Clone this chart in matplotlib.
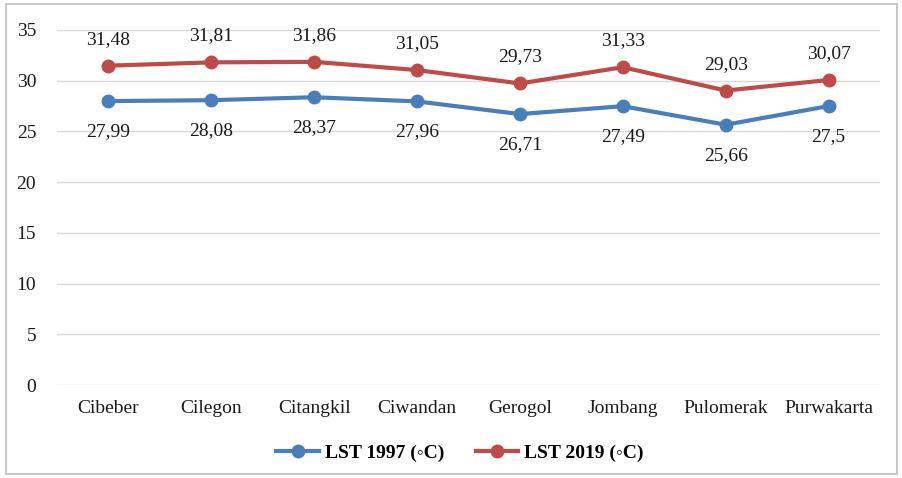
import matplotlib
matplotlib.use("Agg")
import matplotlib.pyplot as plt
from matplotlib.patches import Rectangle

plt.rcParams['font.family'] = ['Liberation Serif', 'DejaVu Serif']

districts = ['Cibeber', 'Cilegon', 'Citangkil', 'Ciwandan', 'Gerogol',
             'Jombang', 'Pulomerak', 'Purwakarta']
lst_1997 = [27.99, 28.08, 28.37, 27.96, 26.71, 27.49, 25.66, 27.5]
lst_2019 = [31.48, 31.81, 31.86, 31.05, 29.73, 31.33, 29.03, 30.07]
yticks = [0, 5, 10, 15, 20, 25, 30, 35]

blue = '#4a7ebb'
red = '#be4b48'

fig = plt.figure(figsize=(9.02, 4.78), dpi=100)
ax = fig.add_axes([57 / 902, 93 / 478, 823 / 902, 355 / 478])

# thin grey frame around the whole chart
fig.patches.append(Rectangle((6 / 902, 4 / 478), 891 / 902, 470 / 478,
                             transform=fig.transFigure, fill=False,
                             edgecolor='#c8c8c8', linewidth=1.5))

x = list(range(len(districts)))
ax.plot(x, lst_1997, color=blue, lw=3, marker='o', ms=9, label='LST 1997 (◦C)')
ax.plot(x, lst_2019, color=red, lw=3, marker='o', ms=9, label='LST 2019 (◦C)')

def fmt(v):
    return ('%g' % v).replace('.', ',')

for i, v in enumerate(lst_1997):
    ax.annotate(fmt(v), (i, v), xytext=(0, -22), textcoords='offset points',
                ha='center', va='center', fontsize=14, color='#1a1a1a')
for i, v in enumerate(lst_2019):
    ax.annotate(fmt(v), (i, v), xytext=(0, 19), textcoords='offset points',
                ha='center', va='center', fontsize=14, color='#1a1a1a')

ax.set_xlim(-0.5, len(districts) - 0.5)
ax.set_ylim(0, 35)
ax.set_yticks(yticks)
ax.set_xticks(x)
ax.set_xticklabels(districts)
ax.grid(axis='y', color='#d9d9d9', lw=1)
ax.set_axisbelow(True)
ax.tick_params(axis='both', length=0, labelsize=14, colors='#1a1a1a')
ax.tick_params(axis='x', pad=11)
ax.tick_params(axis='y', pad=15)
for s in ax.spines.values():
    s.set_visible(False)

fig.legend(loc='center', bbox_to_anchor=(0.51, 25 / 478),
           ncol=2, frameon=False, handlelength=2.2, columnspacing=1.6,
           handletextpad=0.3, prop={'weight': 'bold', 'size': 14,
                                    'family': ['Liberation Serif', 'DejaVu Serif']})

fig.savefig('out.png', dpi=100)
